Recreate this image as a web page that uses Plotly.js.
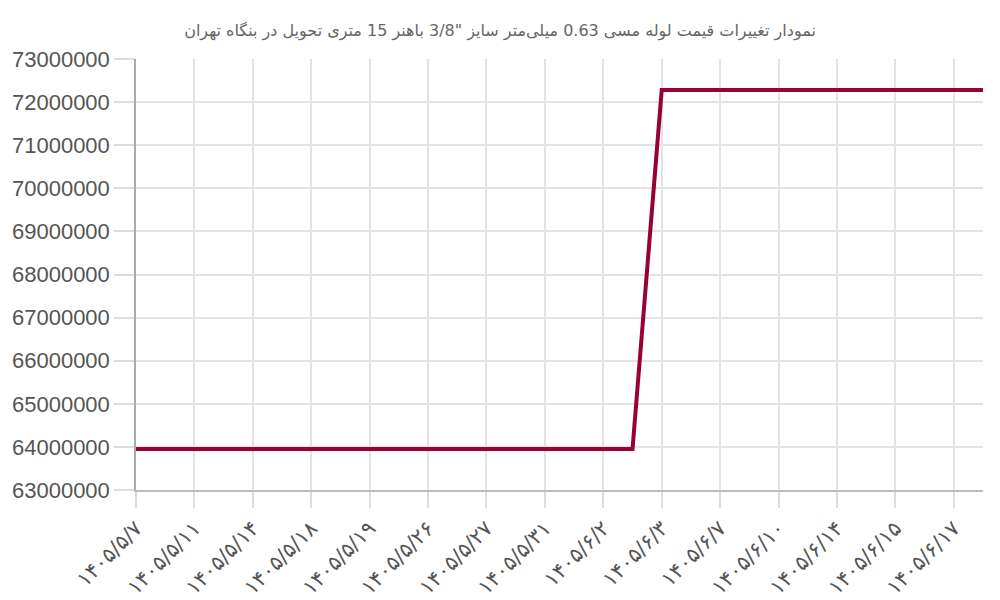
<!DOCTYPE html>
<html>
<head>
<meta charset="utf-8">
<script src="https://cdn.plot.ly/plotly-3.0.1.min.js"></script>
<style>
  html, body { margin: 0; padding: 0; background: #fff; }
  #chart { width: 1000px; height: 600px; }
</style>
</head>
<body>
<div id="chart"></div>
<script>
// Labels shown on the x axis (every other data point)
const tickLabels = [
  "۱۴۰۵/۵/۷", "۱۴۰۵/۵/۱۱", "۱۴۰۵/۵/۱۴", "۱۴۰۵/۵/۱۸", "۱۴۰۵/۵/۱۹",
  "۱۴۰۵/۵/۲۶", "۱۴۰۵/۵/۲۷", "۱۴۰۵/۵/۳۱", "۱۴۰۵/۶/۲", "۱۴۰۵/۶/۳",
  "۱۴۰۵/۶/۷", "۱۴۰۵/۶/۱۰", "۱۴۰۵/۶/۱۴", "۱۴۰۵/۶/۱۵", "۱۴۰۵/۶/۱۷"
];

// Price per point (30 points)
const prices = [
  63950000, 63950000, 63950000, 63950000, 63950000, 63950000,
  63950000, 63950000, 63950000, 63950000, 63950000, 63950000,
  63950000, 63950000, 63950000, 63950000, 63950000, 63950000,
  72280000, 72280000, 72280000, 72280000, 72280000, 72280000,
  72280000, 72280000, 72280000, 72280000, 72280000, 72280000
];

const titleText = 'نمودار تغییرات قیمت لوله مسی 0.63 میلی‌متر سایز "3/8 باهنر 15 متری تحویل در بنگاه تهران';

const xs = prices.map((_, i) => i);

Plotly.newPlot('chart', [{
  x: xs,
  y: prices,
  type: 'scatter',
  mode: 'lines',
  line: { color: '#990036', width: 4 },
  hoverinfo: 'y'
}], {
  width: 1000,
  height: 600,
  margin: { l: 136, r: 17, t: 59, b: 110 },
  paper_bgcolor: '#fff',
  plot_bgcolor: '#fff',
  showlegend: false,
  title: {
    text: titleText,
    x: 0.5,
    y: 0.95,
    yanchor: 'middle',
    font: { family: 'DejaVu Sans, sans-serif', size: 16, color: '#666' }
  },
  xaxis: {
    range: [0, 29],
    tickvals: tickLabels.map((_, i) => i * 2),
    ticktext: tickLabels,
    tickangle: -45,
    ticks: 'outside',
    ticklen: 16,
    tickcolor: '#ddd',
    tickwidth: 1.5,
    showgrid: true,
    gridcolor: '#e3e3e3',
    gridwidth: 1.5,
    showline: true,
    linecolor: '#bbb',
    linewidth: 1.5,
    zeroline: false,
    tickfont: { family: 'DejaVu Sans, sans-serif', size: 21, color: '#555' }
  },
  yaxis: {
    range: [63000000, 73000000],
    dtick: 1000000,
    tickformat: 'd',
    ticks: 'outside',
    ticklen: 20,
    tickcolor: '#ddd',
    tickwidth: 1.5,
    showgrid: true,
    gridcolor: '#e3e3e3',
    gridwidth: 1.5,
    showline: true,
    linecolor: '#aaa',
    linewidth: 1.5,
    zeroline: false,
    tickfont: { family: 'Liberation Sans, Arial, sans-serif', size: 22, color: '#555' }
  }
}, { displayModeBar: false });
</script>
</body>
</html>
